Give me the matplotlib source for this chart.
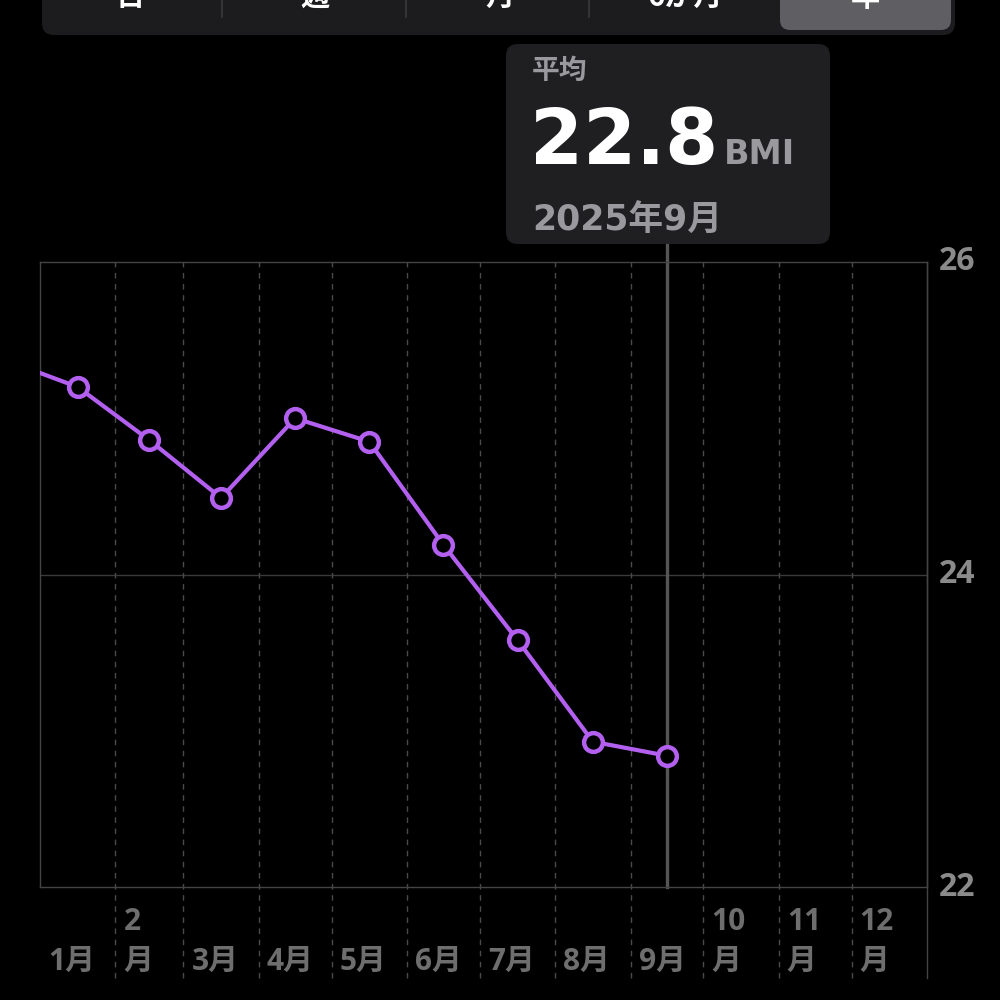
import matplotlib
matplotlib.use("Agg")
import matplotlib.pyplot as plt
from matplotlib.patches import FancyBboxPatch
from matplotlib.transforms import blended_transform_factory, offset_copy

plt.rcParams['font.family'] = ['Noto Sans CJK JP', 'DejaVu Sans']

# ---- data ----
month_starts = [0, 31, 59, 90, 120, 151, 181, 212, 243, 273, 304, 334, 365]
month_labels = ["1月", "2\n月", "3月", "4月", "5月", "6月", "7月", "8月", "9月",
                "10\n月", "11\n月", "12\n月"]
point_days = [-15.5, 15.5, 45, 74.5, 105, 135.5, 166, 196.5, 227.5, 258]
bmi_values = [25.38, 25.20, 24.86, 24.49, 25.00, 24.85, 24.19, 23.58, 22.93, 22.84]
y_ticks = [22, 24, 26]
segments = ["日", "週", "月", "6か月", "年"]
selected_day = 258
tooltip_title = "平均"
tooltip_value = "22.8"
tooltip_unit = "BMI"
tooltip_date = "2025年9月"

purple = "#b35ff0"
grid_c = "#4a4a4a"
num_fam = ["Open Sans", "Noto Sans CJK JP", "DejaVu Sans"]
wide_fam = ["DejaVu Sans", "Noto Sans CJK JP"]

fig = plt.figure(figsize=(10, 10), dpi=100, facecolor="black")
ax = fig.add_axes([0.04, 0.113, 0.887, 0.625], facecolor="black")
ax.set_xlim(0, 365)
ax.set_ylim(22, 26)
for s in ax.spines.values():
    s.set_color("#444444")
    s.set_linewidth(1.0)
ax.set_xticks([])
ax.set_yticks([])

# horizontal grid
for yt in y_ticks[1:-1]:
    ax.axhline(yt, color="#3a3a3a", lw=1.0, zorder=1)

# vertical dashed month grid (extends into label area)
ext = -(978 - 887) / 625
for d in month_starts[1:-1]:
    ax.axvline(d, ymin=ext, ymax=1, color=grid_c, lw=1.0, ls=(0, (4, 4)),
               clip_on=False, zorder=1)
# right border extension
ax.axvline(365, ymin=ext, ymax=1, color="#444444", lw=1.0, clip_on=False, zorder=1)

# selection line
ax.axvline(selected_day, ymin=0, ymax=(887 - 244) / 625, color="#555555", lw=2.4,
           clip_on=False, zorder=2)

# data line
ax.plot(point_days, bmi_values, color=purple, lw=3.0, zorder=3, clip_on=True,
        solid_capstyle="round")
ax.plot(point_days[1:], bmi_values[1:], ls="none", marker="o", ms=13.5,
        mfc="black", mec=purple, mew=3.2, zorder=4)

# y tick labels on right
ytrans = offset_copy(blended_transform_factory(ax.transAxes, ax.transData),
                     fig=fig, x=12, y=0, units="dots")
for yt in y_ticks:
    ax.text(1.0, yt, str(yt), transform=ytrans, ha="left", va="center",
            color="#8a8a8a", fontsize=23, fontweight="bold", family=num_fam)

# x labels
trans = offset_copy(blended_transform_factory(ax.transData, fig.transFigure),
                    fig=fig, x=8, y=0, units="dots")
for d, lab in zip(month_starts[:-1], month_labels):
    ax.text(d, 1 - 977 / 1000, lab, transform=trans,
            ha="left", va="bottom", color="#6e6e6e", fontsize=21.5, fontweight="bold",
            linespacing=1.45, family=num_fam)

# segmented control
seg_box = FancyBboxPatch((0.042 + 0.012, 0.965 + 0.012), 0.913 - 0.024, 0.06,
                         boxstyle="round,pad=0.012", transform=fig.transFigure,
                         facecolor="#1c1c1e", edgecolor="none")
fig.patches.append(seg_box)
sel_box = FancyBboxPatch((0.780 + 0.01, 0.970 + 0.01), 0.171 - 0.02, 0.05,
                         boxstyle="round,pad=0.01", transform=fig.transFigure,
                         facecolor="#5f5f63", edgecolor="none")
fig.patches.append(sel_box)
for xs in [0.222, 0.406, 0.589]:
    fig.add_artist(plt.Line2D([xs, xs], [0.983, 1.0], transform=fig.transFigure,
                              color="#3a3a3c", lw=1.2))
seg_centers = [0.130, 0.315, 0.500, 0.685, 0.865]
for xc, s in zip(seg_centers, segments):
    fig.text(xc, 1.003, s, ha="center", va="center", color="white", fontsize=21,
             fontweight="bold")

# tooltip
tip = FancyBboxPatch((0.506 + 0.012, 0.756 + 0.012), 0.324 - 0.024, 0.200 - 0.024,
                     boxstyle="round,pad=0.012", transform=fig.transFigure,
                     facecolor="#1f1f21", edgecolor="none")
fig.patches.append(tip)
fig.text(0.532, 1 - 0.071, tooltip_title, ha="left", va="center", color="#9a9a9e",
         fontsize=20, fontweight="bold")
fig.text(0.530, 1 - 0.164, tooltip_value, ha="left", va="baseline", color="white",
         fontsize=55, fontweight="bold", family=wide_fam)
fig.text(0.724, 1 - 0.164, tooltip_unit, ha="left", va="baseline", color="#9a9a9e",
         fontsize=24, fontweight="bold", family=wide_fam)
fig.text(0.532, 1 - 0.231, tooltip_date, ha="left", va="baseline", color="#9a9a9e",
         fontsize=25, fontweight="bold", family=wide_fam)

fig.savefig("out.png", dpi=100, facecolor="black")
